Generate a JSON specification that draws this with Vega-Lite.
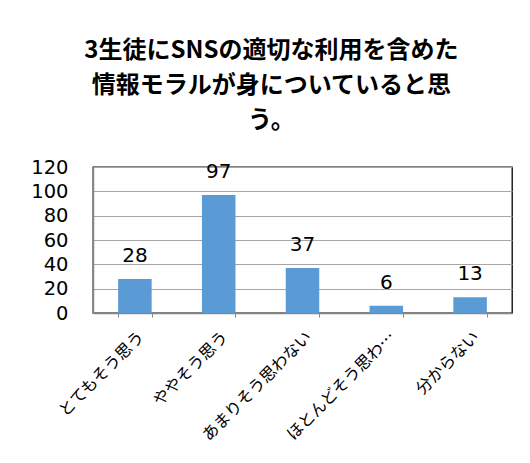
{
  "$schema": "https://vega.github.io/schema/vega-lite/v6.json",
  "width": 419,
  "height": 146,
  "autosize": {"type": "none"},
  "padding": {"left": 93, "top": 167, "right": 18, "bottom": 150},
  "background": "white",
  "config": {
    "font": "Noto Sans CJK JP",
    "view": {"stroke": "#000000", "strokeWidth": 1.3}
  },
  "title": {
    "text": ["3生徒にSNSの適切な利用を含めた", "情報モラルが身についていると思", "う。"],
    "fontSize": 24,
    "fontWeight": "bold",
    "color": "#000000",
    "lineHeight": 35,
    "anchor": "middle",
    "frame": "bounds",
    "offset": 24
  },
  "data": {
    "values": [
      {"category": "とてもそう思う", "count": 28},
      {"category": "ややそう思う", "count": 97},
      {"category": "あまりそう思わない", "count": 37},
      {"category": "ほとんどそう思わない", "count": 6},
      {"category": "分からない", "count": 13}
    ]
  },
  "encoding": {
    "x": {
      "field": "category",
      "type": "nominal",
      "sort": null,
      "scale": {"paddingInner": 0.6, "paddingOuter": 0.3},
      "axis": {
        "title": null,
        "labelAngle": -45,
        "labelAlign": "right",
        "labelBaseline": "middle",
        "labelFontSize": 16.3,
        "labelColor": "#000000",
        "labelLimit": 160,
        "labelPadding": 17,
        "labelOffset": 6,
        "tickBand": "extent",
        "tickSize": 4,
        "tickColor": "#868686",
        "domainColor": "#868686",
        "domainWidth": 1.5,
        "grid": false
      }
    },
    "y": {
      "field": "count",
      "type": "quantitative",
      "scale": {"domain": [0, 120]},
      "axis": {
        "title": null,
        "values": [0, 20, 40, 60, 80, 100, 120],
        "labelFont": "DejaVu Sans",
        "labelFontSize": 19.5,
        "labelColor": "#000000",
        "labelPadding": 25,
        "ticks": false,
        "domainColor": "#868686",
        "domainWidth": 1.5,
        "gridColor": "#a6a6a6",
        "gridWidth": 1.2
      }
    }
  },
  "layer": [
    {"mark": {"type": "bar", "color": "#5b9bd5"}},
    {
      "mark": {"type": "text", "font": "DejaVu Sans", "fontSize": 20, "dy": -17, "baseline": "alphabetic", "color": "#000000"},
      "encoding": {"text": {"field": "count", "type": "quantitative"}}
    }
  ]
}
